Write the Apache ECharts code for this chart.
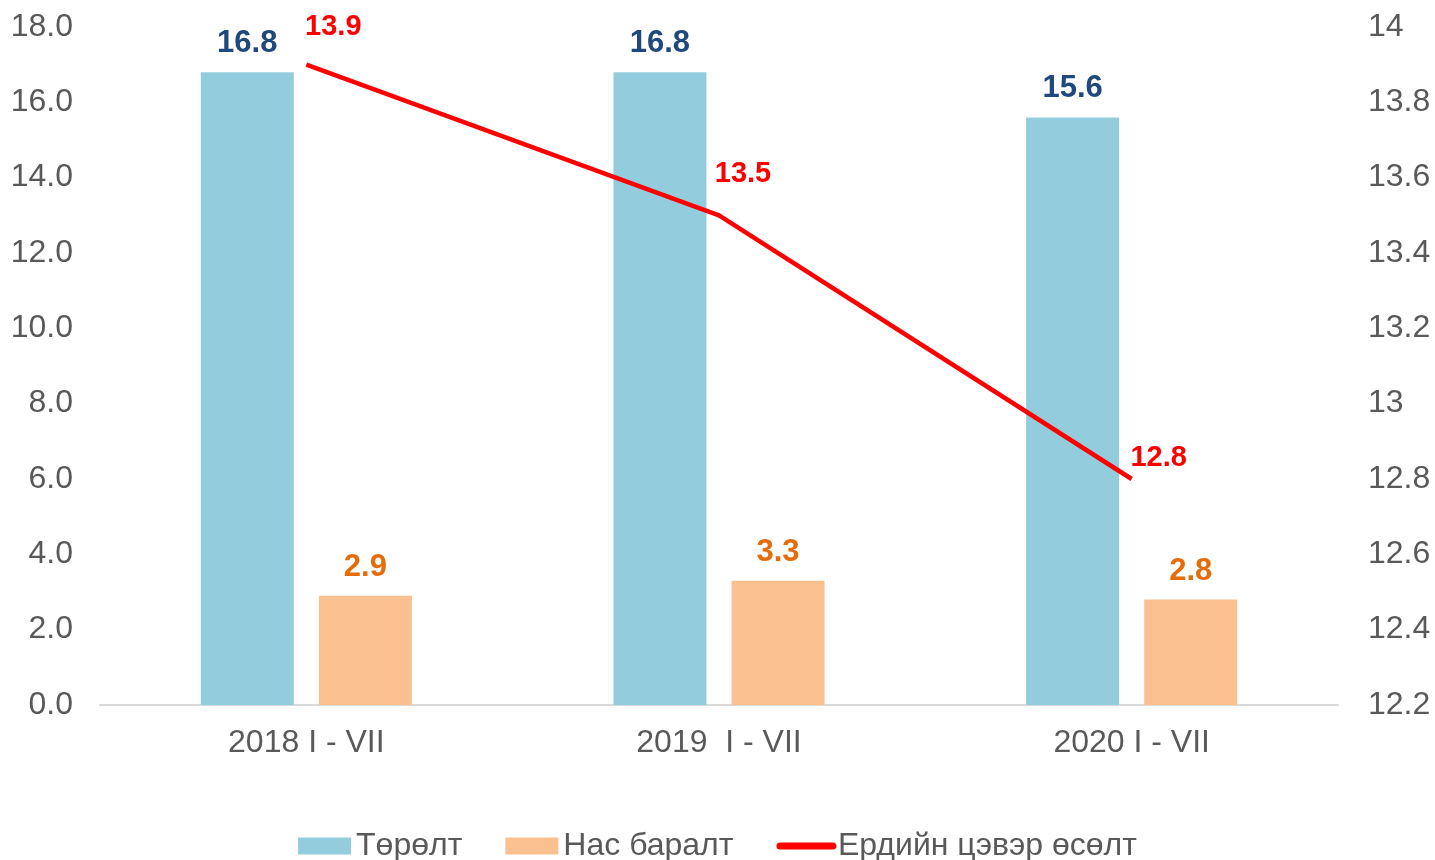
<!DOCTYPE html>
<html>
<head>
<meta charset="utf-8">
<script src="https://cdn.jsdelivr.net/npm/echarts@6/dist/echarts.min.js"></script>
<style>
  html, body { margin: 0; padding: 0; background: #fff; }
  #mychart { width: 1435px; height: 860px; }
</style>
</head>
<body>
<div id="mychart"></div>
<script>
// data
const categories = ['2018 I - VII', '2019  I - VII', '2020 I - VII'];
const births = [16.8, 16.8, 15.6];   // Төрөлт
const deaths = [2.9, 3.3, 2.8];      // Нас баралт
const growth = [13.9, 13.5, 12.8];   // Ердийн цэвэр өсөлт

// label offsets for the red line (style only)
const growthLabelOffsets = [[27, -19], [24, -23], [27, -3]];

const colors = {
  blue: '#93CDDD',
  orange: '#FAC090',
  red: '#FF0000',
  blueText: '#1F497D',
  orangeText: '#E46C0A',
  axisText: '#595959',
  axisLine: '#D9D9D9',
};

const font = 'Arial, "Liberation Sans", sans-serif';

let myChart = echarts.init(document.getElementById('mychart'));

let option = {
  animation: false,
  textStyle: { fontFamily: font },
  grid: { left: 100, right: 97, top: 27, bottom: 155, containLabel: false },
  legend: {
    bottom: -7,
    left: 'center',
    itemWidth: 53,
    itemHeight: 17,
    itemGap: 43,
    textStyle: { fontSize: 32, color: colors.axisText, fontFamily: font },
    data: [
      { name: 'Төрөлт', icon: 'rect' },
      { name: 'Нас баралт', icon: 'rect' },
      {
        name: 'Ердийн цэвэр өсөлт',
        itemStyle: { color: 'transparent', borderWidth: 0 },
        lineStyle: { width: 7, cap: 'round' },
      },
    ],
  },
  xAxis: {
    type: 'category',
    data: categories,
    axisLine: { lineStyle: { color: colors.axisLine, width: 2 } },
    axisTick: { show: false },
    axisLabel: { color: colors.axisText, fontSize: 32, margin: 22 },
  },
  yAxis: [
    {
      type: 'value',
      min: 0,
      max: 18,
      interval: 2,
      splitLine: { show: false },
      axisLine: { show: false },
      axisTick: { show: false },
      axisLabel: {
        color: colors.axisText,
        fontSize: 32,
        margin: 27,
        formatter: (v) => v.toFixed(1),
      },
    },
    {
      type: 'value',
      min: 12.2,
      max: 14,
      interval: 0.2,
      splitLine: { show: false },
      axisLine: { show: false },
      axisTick: { show: false },
      axisLabel: {
        color: colors.axisText,
        fontSize: 32,
        margin: 30,
        formatter: (v) => String(Math.round(v * 10) / 10),
      },
    },
  ],
  series: [
    {
      name: 'Төрөлт',
      type: 'bar',
      data: births,
      barWidth: 93,
      barGap: '27%',
      itemStyle: { color: colors.blue },
      label: {
        show: true,
        position: 'top',
        distance: 13,
        color: colors.blueText,
        fontWeight: 'bold',
        fontSize: 31,
        formatter: (p) => p.value.toFixed(1),
      },
    },
    {
      name: 'Нас баралт',
      type: 'bar',
      data: deaths,
      barWidth: 93,
      itemStyle: { color: colors.orange },
      label: {
        show: true,
        position: 'top',
        distance: 13,
        color: colors.orangeText,
        fontWeight: 'bold',
        fontSize: 31,
        formatter: (p) => p.value.toFixed(1),
      },
    },
    {
      name: 'Ердийн цэвэр өсөлт',
      type: 'line',
      yAxisIndex: 1,
      data: growth.map((v, i) => ({
        value: v,
        label: { offset: growthLabelOffsets[i] },
      })),
      showSymbol: true,
      symbol: 'circle',
      symbolSize: 0,
      lineStyle: { color: colors.red, width: 4.5 },
      itemStyle: { color: colors.red },
      label: {
        show: true,
        position: 'top',
        distance: 4,
        color: colors.red,
        fontWeight: 'bold',
        fontSize: 29,
        formatter: (p) => p.value.toFixed(1),
      },
    },
  ],
};

myChart.setOption(option);
</script>
</body>
</html>
